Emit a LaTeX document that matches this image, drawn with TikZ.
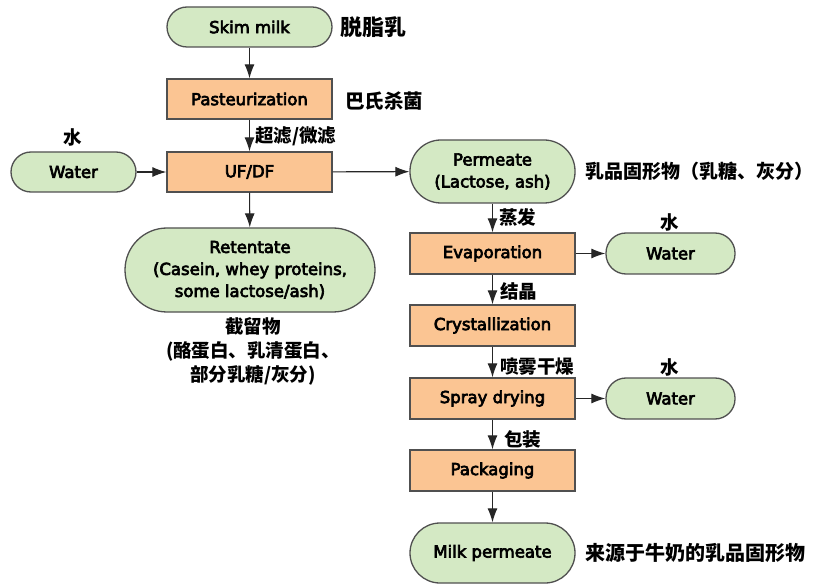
\documentclass[tikz,border=0pt]{standalone}
\usepackage{fontspec}
\setmainfont{DejaVu Sans}[FakeBold=4]
\newfontfamily\cjk{Noto Sans CJK SC}
\usetikzlibrary{arrows.meta}
\definecolor{pillfill}{HTML}{D4E9C4}
\definecolor{boxfill}{HTML}{FBC593}
\definecolor{edgec}{HTML}{505050}
\tikzset{
  x=1pt,y=1pt,
  base/.style={draw=edgec, line width=1.3pt, inner sep=0pt, align=center, font=\fontsize{16.5}{22}\selectfont},
  pill/.style={base, fill=pillfill, rounded corners=#1},
  pill/.default=20pt,
  procbox/.style={base, fill=boxfill, minimum width=165pt},
  flow/.style={draw=black!85, line width=1.1pt, -{Latex[length=14pt,width=10pt]}},
  cn/.style={inner sep=0pt, font=\cjk\bfseries\fontsize{18.5}{24}\selectfont},
  cnbig/.style={inner sep=0pt, anchor=west, font=\cjk\bfseries\fontsize{19}{24}\selectfont},
}
\begin{document}
\begin{tikzpicture}
\useasboundingbox (0,0) rectangle (819,-585);
% nodes
\node[pill=20pt, minimum width=165pt, minimum height=40pt] (skim) at (249.5,-27) {Skim milk};
\node[procbox, minimum height=40pt] (past) at (249.5,-99) {Pasteurization};
\node[procbox, minimum height=40pt] (uf) at (249.5,-172) {UF/DF};
\node[pill=20pt, minimum width=125pt, minimum height=40pt] (waterL) at (73.5,-172) {Water};
\node[pill=31pt, minimum width=165pt, minimum height=63pt] (perm) at (492.5,-171.5) {Permeate\\(Lactose, ash)};
\node[pill=42pt, minimum width=250pt, minimum height=84pt] (ret) at (250,-270) {Retentate\\(Casein, whey proteins,\\some lactose/ash)};
\node[procbox, minimum height=41pt] (evap) at (492.5,-253.5) {Evaporation};
\node[pill=20pt, minimum width=129pt, minimum height=41pt] (waterE) at (670.5,-253.5) {Water};
\node[procbox, minimum height=41pt] (cryst) at (492.5,-325.5) {Crystallization};
\node[procbox, minimum height=41pt] (spray) at (492.5,-398.5) {Spray drying};
\node[pill=20pt, minimum width=129pt, minimum height=41pt] (waterS) at (670.5,-398.5) {Water};
\node[procbox, minimum height=41pt] (pack) at (492.5,-470.5) {Packaging};
\node[pill=30pt, minimum width=165pt, minimum height=60pt] (milk) at (492.5,-553) {Milk permeate};
% connectors
\draw[flow] (skim) -- (past);
\draw[flow] (past) -- (uf);
\draw[flow] (waterL) -- (uf);
\draw[flow] (uf) -- (perm);
\draw[flow] (uf) -- (ret);
\draw[flow] (perm) -- (evap);
\draw[flow] (evap) -- (waterE);
\draw[flow] (evap) -- (cryst);
\draw[flow] (cryst) -- (spray);
\draw[flow] (spray) -- (waterS);
\draw[flow] (spray) -- (pack);
\draw[flow] (pack) -- (milk);
% labels
\node[cn] (lw1) at (73,-137) {水};
\node[cn] (lw2) at (670,-222) {水};
\node[cn] (lw3) at (670,-367) {水};
\node[cn, anchor=west] (luf) at (255,-136) {超滤/微滤};
\node[cn, anchor=west] (lev) at (499,-217) {蒸发};
\node[cn, anchor=west] (lcr) at (500,-291) {结晶};
\node[cn, anchor=west] (lsp) at (500,-367) {喷雾干燥};
\node[cn, anchor=west] (lpk) at (504,-440) {包装};
\node[inner sep=0pt, anchor=west, font=\cjk\bfseries\fontsize{22}{24}\selectfont] (askim) at (340,-27) {脱脂乳};
\node[cnbig, font=\cjk\bfseries\fontsize{19.5}{24}\selectfont] (apast) at (345,-101) {巴氏杀菌};
\node[cnbig] (aperm) at (585,-171) {乳品固形物（乳糖、灰分）};
\node[cnbig, font=\cjk\bfseries\fontsize{20}{24}\selectfont] (amilk) at (585,-553) {来源于牛奶的乳品固形物};
\node[cn, align=center] (aret) at (253,-351) {截留物\\(酪蛋白、乳清蛋白、\\部分乳糖/灰分)};
\end{tikzpicture}
\end{document}
